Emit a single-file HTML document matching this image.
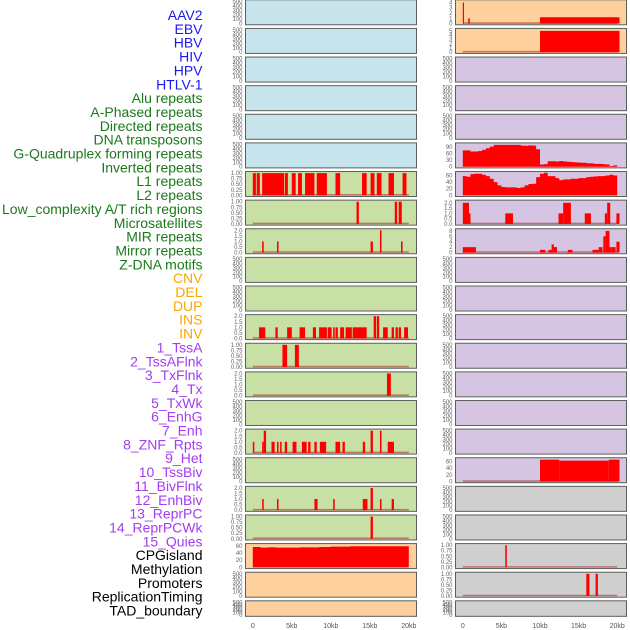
<!DOCTYPE html>
<html><head><meta charset="utf-8"><style>
html,body{margin:0;padding:0;background:#fff;}
svg{display:block;font-family:"Liberation Sans",sans-serif;}
</style></head><body>
<svg id="chart" width="630" height="630" viewBox="0 0 630 630"></svg>
<script>
const labels = ["AAV2","EBV","HBV","HIV","HPV","HTLV-1","Alu repeats","A-Phased repeats","Directed repeats","DNA transposons","G-Quadruplex forming repeats","Inverted repeats","L1 repeats","L2 repeats","Low_complexity A/T rich regions","Microsatellites","MIR repeats","Mirror repeats","Z-DNA motifs","CNV","DEL","DUP","INS","INV","1_TssA","2_TssAFlnk","3_TxFlnk","4_Tx","5_TxWk","6_EnhG","7_Enh","8_ZNF_Rpts","9_Het","10_TssBiv","11_BivFlnk","12_EnhBiv","13_ReprPC","14_ReprPCWk","15_Quies","CPGisland","Methylation","Promoters","ReplicationTiming","TAD_boundary"];
const labelGroups = ["virus","virus","virus","virus","virus","virus","repeat","repeat","repeat","repeat","repeat","repeat","repeat","repeat","repeat","repeat","repeat","repeat","repeat","sv","sv","sv","sv","sv","chromhmm","chromhmm","chromhmm","chromhmm","chromhmm","chromhmm","chromhmm","chromhmm","chromhmm","chromhmm","chromhmm","chromhmm","chromhmm","chromhmm","chromhmm","other","other","other","other","other"];
const xTicks = [0,5,10,15,20];
const xTickLabels = ["0","5kb","10kb","15kb","20kb"];

// bars: [startKb, endKb, value]
const left6Bars = [[0,0.4,1],[0.5,0.9,1],[1.2,4.0,1],[4.1,4.5,1],[5.0,5.5,1],[5.8,6.3,1],[6.7,7.9,1],[8.2,9.5,1],[10.6,11.2,1],[14.0,14.6,1],[15.1,15.6,1],[15.9,16.5,1],[17.4,18.1,1],[19.2,19.7,1]];
const left7Bars = [[13.3,13.6,1],[18.2,18.5,1],[18.7,19.1,1]];
const left8Bars = [[1.2,1.4,1],[3.1,3.3,1],[15.1,15.4,1],[16.3,16.5,2],[19.0,19.2,1]];
const left11Bars = [[0.8,1.6,1],[2.9,3.2,1],[4.4,5.0,1],[6.0,6.7,1],[7.7,8.1,1],[8.5,9.5,1],[9.6,10.1,1],[10.3,10.5,1],[10.6,10.9,1],[11.2,11.7,1],[11.9,12.7,1],[12.8,14.6,1],[15.5,15.8,2],[15.9,16.2,2],[16.7,17.3,1],[17.8,18.1,1],[18.3,18.6,1],[18.7,19.0,1],[19.4,19.9,1]];
const left12Bars = [[3.8,4.4,1],[5.4,5.9,1]];
const left13Bars = [[17.2,17.7,2]];
const left15Bars = [[0,0.2,1],[1.2,1.4,1],[1.4,1.7,2],[2.4,2.8,1],[3.1,3.3,1],[3.5,3.7,1],[4.1,4.4,1],[5.1,5.6,1],[6.3,6.9,1],[7.1,7.4,1],[7.9,8.2,1],[8.6,9.4,1],[10.6,11.2,1],[11.5,11.8,1],[14.1,14.4,1],[15.1,15.4,2],[16.3,16.5,2],[17.3,18.1,1]];
const left17Bars = [[1.2,1.4,1],[3.1,3.3,1],[7.9,8.3,1],[10.3,10.5,1],[14.1,14.7,1],[15.1,15.4,2],[16.3,16.5,1],[17.8,18.1,1]];
const left18Bars = [[15.1,15.4,1]];
const right0Bars = [[0,0.15,4],[0.7,0.9,1],[10,20.3,1.2]];
const right1Bars = [[10,20.3,5]];
const right7Bars = [[0,0.8,2],[0.8,1.0,1],[5.5,6.5,1],[12.4,13.0,1],[13.0,14.0,2],[15.8,16.6,1],[18.4,18.7,1],[18.7,19.1,2],[19.9,20.3,1]];
const right8Bars = [[0,1.7,2],[10.0,10.7,1],[11.1,11.5,1],[11.5,11.8,3],[11.8,12.2,2],[13.6,14.2,1],[16.8,17.6,1],[17.6,18.1,2],[18.2,18.5,6],[18.5,19.0,8],[19.0,19.3,2],[19.3,19.8,2],[19.9,20.3,4]];
const right16Bars = [[10,12.5,65],[12.5,18.9,62],[18.9,20.3,65]];
const right19Bars = [[5.5,5.7,1]];
const right20Bars = [[16.0,16.4,1],[17.2,17.5,1]];
// binned areas (0.5 kb bins from 0 kb)
const left19Bins = [57,57,55,55,56,56,55,55,55,55,55,55,56,56,56,56,56,57,57,57,58,58,58,58,58,59,59,59,59,59,59,59,59,59,59,59,59,59,59,59];
const right5Bins = [75,75,70,70,72,78,85,92,100,100,100,100,100,100,100,97,96,98,97,80,10,12,25,25,24,26,24,23,21,20,19,18,16,15,13,13,12,10,3,6];
const right6Bins = [58,56,64,65,65,62,58,50,40,30,25,24,24,24,22,24,30,34,35,55,65,68,58,58,52,46,48,48,50,50,52,52,55,56,57,58,58,60,62,60];

const ticksEmpty = [0,100,200,300,400,500];
const ticksOne = [0,0.25,0.5,0.75,1];
const ticksTwo = [0,0.5,1,1.5,2];

const NS = "http://www.w3.org/2000/svg";
const svg = document.getElementById("chart");
function mk(tag, attrs, parent){ const e=document.createElementNS(NS,tag); for(const k in attrs) e.setAttribute(k,attrs[k]); (parent||svg).appendChild(e); return e; }

const colors = {virus:"#1a1aee", repeat:"#1a7a1a", sv:"#ffa500", chromhmm:"#a43cf0", other:"#000"};
labels.forEach((t,i)=>{
  const e = mk("text",{x:202.5,y:15+i*13.85+5,"text-anchor":"end","font-size":"14",fill:colors[labelGroups[i]]});
  e.textContent = t;
  
  
});

const bgs = {virus:"#c7e3ec", repeat:"#c8e0a5", sv:"#fdd09e", chromhmm:"#d6c5e2", other:"#cfcfcf"};
const cols = [{x:245.5,w:171,origin:252.8,kb:7.8},{x:455.5,w:171,origin:462.8,kb:7.72}];
const spec = {};
spec["0-6"]={bars:left6Bars,max:1,ticks:ticksOne,fmt:2};
spec["0-7"]={bars:left7Bars,max:1,ticks:ticksOne,fmt:2};
spec["0-8"]={bars:left8Bars,max:2,ticks:ticksTwo,fmt:1};
spec["0-11"]={bars:left11Bars,max:2,ticks:ticksTwo,fmt:1};
spec["0-12"]={bars:left12Bars,max:1,ticks:ticksOne,fmt:2};
spec["0-13"]={bars:left13Bars,max:2,ticks:ticksTwo,fmt:1};
spec["0-15"]={bars:left15Bars,max:2,ticks:ticksTwo,fmt:1};
spec["0-17"]={bars:left17Bars,max:2,ticks:ticksTwo,fmt:1};
spec["0-18"]={bars:left18Bars,max:1,ticks:ticksOne,fmt:2};
spec["0-19"]={bins:left19Bins,max:62,ticks:[0,20,40,60],fmt:0,nobase:true};
spec["1-0"]={bars:right0Bars,max:4.2,ticks:[0,1,2,3,4],fmt:0};
spec["1-1"]={bars:right1Bars,max:5.2,ticks:[0,1,2,3,4,5],fmt:0};
spec["1-5"]={bins:right5Bins,max:102,ticks:[0,30,60,90],fmt:0,nobase:true};
spec["1-6"]={bins:right6Bins,max:67,ticks:[0,20,40,60],fmt:0,nobase:true};
spec["1-7"]={bars:right7Bars,max:2.1,ticks:ticksTwo,fmt:1};
spec["1-8"]={bars:right8Bars,max:8.2,ticks:[0,2,4,6,8],fmt:0};
spec["1-16"]={bars:right16Bars,max:66,ticks:[0,20,40,60],fmt:0};
spec["1-19"]={bars:right19Bars,max:1,ticks:ticksOne,fmt:2};
spec["1-20"]={bars:right20Bars,max:1,ticks:ticksOne,fmt:2};

for(let c=0;c<2;c++){
  const col = cols[c];
  for(let r=0;r<22;r++){
    const track = c*22+r;
    const top = 28.62*r - 0.2;
    const h = r===21 ? 15.5 : 25;
    const g = mk("g",{});
    
    
    const bg = mk("rect",{x:col.x,y:top,width:col.w,height:h,fill:bgs[labelGroups[track]],stroke:"#5a5f5a","stroke-width":1},g);
    
    
    const s = spec[c+"-"+r] || {max:500,ticks:ticksEmpty,fmt:0,empty:true};
    const y0 = top + h - 1.2;
    const span = h - 2.8;
    const ys = v => y0 - v/s.max*span;
    const xs = kb => col.origin + kb*col.kb;
    if(!s.empty && !s.nobase){
      const bl = mk("line",{x1:xs(0),x2:xs(20),y1:y0-0.5,y2:y0-0.5,stroke:"rgba(170,40,40,0.55)","stroke-width":1.6},g);
      
      
    }
    if(s.bars){
      s.bars.forEach(b=>{
        const rc = mk("rect",{x:xs(b[0]),y:ys(b[2]),width:Math.max(1.2,xs(b[1])-xs(b[0])),height:y0-ys(b[2]),fill:"#ff0000"},g);
        
        
      });
    }
    if(s.bins){
      let d = "M"+xs(0)+","+y0;
      s.bins.forEach((v,i)=>{ d += " L"+xs(i*0.5)+","+ys(v)+" L"+xs(i*0.5+0.5)+","+ys(v); });
      d += " L"+xs(s.bins.length*0.5)+","+y0+" Z";
      const p = mk("path",{d:d,fill:"#ff0000"},g);
      
      
    }
    s.ticks.forEach(t=>{
      const tx = mk("text",{x:col.x-3,y:ys(t)+2,"text-anchor":"end","font-size":"6",fill:"#666"},g);
      tx.textContent = t.toFixed(s.fmt);
      
      
    });
  }
  xTicks.forEach((t,i)=>{
    const tx = mk("text",{x:col.origin+t*col.kb,y:628,"text-anchor":"middle","font-size":"7",fill:"#555"});
    tx.textContent = xTickLabels[i];
    
    
  });
}
</script>
</body></html>
